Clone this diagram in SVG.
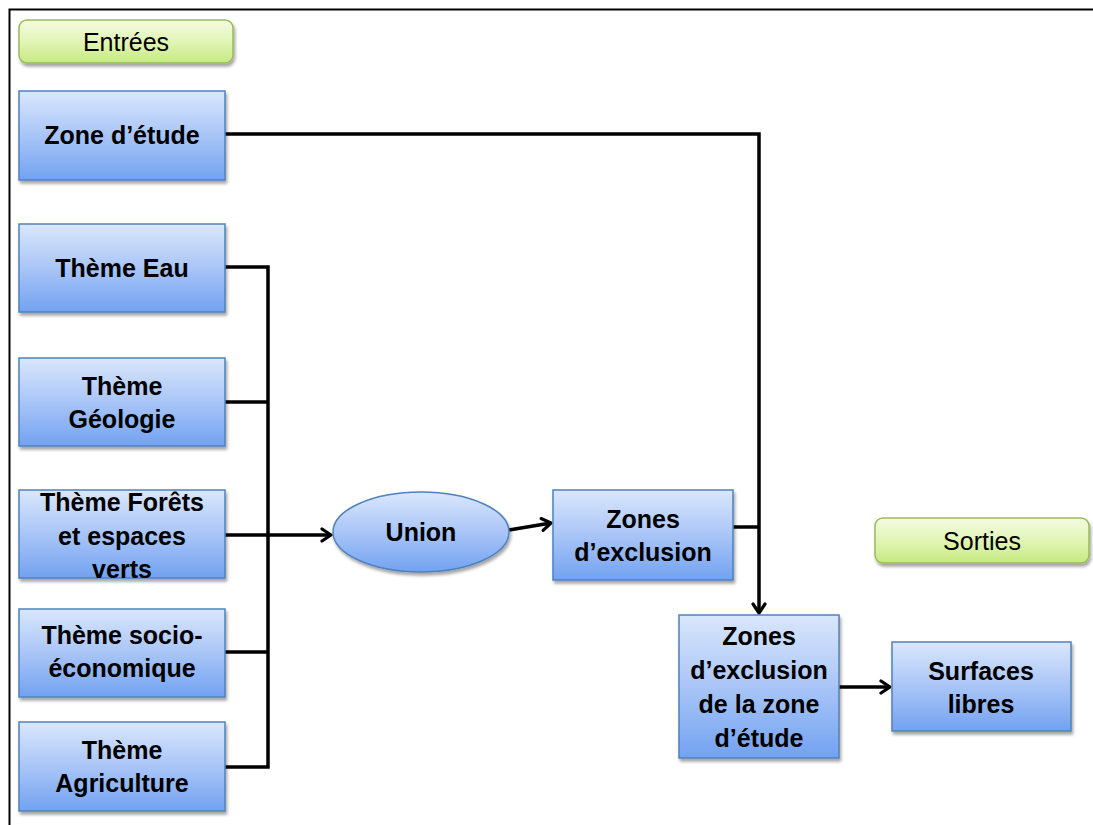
<svg xmlns="http://www.w3.org/2000/svg" width="1093" height="825" viewBox="0 0 1093 825">
  <defs>
    <linearGradient id="blueFill" x1="0" y1="0" x2="0" y2="1">
      <stop offset="0" stop-color="#dae7fc"/>
      <stop offset="0.5" stop-color="#a9c5f7"/>
      <stop offset="1" stop-color="#72a2f1"/>
    </linearGradient>
    <linearGradient id="greenFill" x1="0" y1="0" x2="0" y2="1">
      <stop offset="0" stop-color="#f4fbe2"/>
      <stop offset="0.5" stop-color="#e1f5b5"/>
      <stop offset="1" stop-color="#c6ea82"/>
    </linearGradient>
    <filter id="shadow" x="-10%" y="-10%" width="130%" height="130%">
      <feDropShadow dx="1.5" dy="3" stdDeviation="1.8" flood-color="#000" flood-opacity="0.35"/>
    </filter>
    <marker id="arrow" viewBox="0 0 16 16" refX="13" refY="8" markerWidth="16" markerHeight="16" markerUnits="userSpaceOnUse" orient="auto">
      <polyline points="4,2 13,8 4,14" fill="none" stroke="#000" stroke-width="3.2" stroke-linecap="round" stroke-linejoin="round"/>
    </marker>
  </defs>
  <style>
    .box { fill: url(#blueFill); stroke: #4f81bd; stroke-width: 1.5; filter: url(#shadow); }
    .tag { fill: url(#greenFill); stroke: #9bbb59; stroke-width: 1.5; filter: url(#shadow); }
    .lbl { font-family: "Liberation Sans", Arial, sans-serif; font-size: 25px; font-weight: bold; fill: #000; text-anchor: middle; }
    .tagl { font-family: "Liberation Sans", Arial, sans-serif; font-size: 25px; fill: #000; text-anchor: middle; }
    .wire { fill: none; stroke: #000; stroke-width: 3.5; stroke-linejoin: miter; }
  </style>

  <rect width="1093" height="825" fill="#fff"/>
  <!-- frame -->
  <path d="M9.5 825 V9.5 H1093" fill="none" stroke="#000" stroke-width="2"/>

  <!-- connectors -->
  <g id="connectors">
    <path class="wire" d="M225 134 H759 V613" marker-end="url(#arrow)"/>
    <path class="wire" d="M225 267 H268 V767 H225"/>
    <path class="wire" d="M225 402 H268"/>
    <path class="wire" d="M225 652 H268"/>
    <path class="wire" d="M225 535 H331" marker-end="url(#arrow)"/>
    <path class="wire" d="M509 530 L551 523" marker-end="url(#arrow)"/>
    <path class="wire" d="M733 527 H759"/>
    <path class="wire" d="M839 687 H890" marker-end="url(#arrow)"/>
  </g>

  <g id="entrees">
    <rect class="tag" x="19" y="20" width="214" height="43" rx="8"/>
    <text class="tagl" x="126" y="51">Entrées</text>
  </g>
  <g id="sorties">
    <rect class="tag" x="875" y="518" width="214" height="45" rx="8"/>
    <text class="tagl" x="982" y="550">Sorties</text>
  </g>

  <g id="zone-etude">
    <rect class="box" x="19" y="91" width="206" height="89"/>
    <text class="lbl" x="122" y="144">Zone d’étude</text>
  </g>
  <g id="theme-eau">
    <rect class="box" x="19" y="224" width="206" height="88"/>
    <text class="lbl" x="122" y="277">Thème Eau</text>
  </g>
  <g id="theme-geologie">
    <rect class="box" x="19" y="358" width="206" height="88"/>
    <text class="lbl" x="122" y="395">Thème</text>
    <text class="lbl" x="122" y="428">Géologie</text>
  </g>
  <g id="theme-forets">
    <rect class="box" x="19" y="490" width="206" height="88"/>
    <text class="lbl" x="122" y="511">Thème Forêts</text>
    <text class="lbl" x="122" y="545">et espaces</text>
    <text class="lbl" x="122" y="578">verts</text>
  </g>
  <g id="theme-socio">
    <rect class="box" x="19" y="609" width="206" height="88"/>
    <text class="lbl" x="122" y="644">Thème socio-</text>
    <text class="lbl" x="122" y="677">économique</text>
  </g>
  <g id="theme-agriculture">
    <rect class="box" x="19" y="722" width="206" height="89"/>
    <text class="lbl" x="122" y="759">Thème</text>
    <text class="lbl" x="122" y="792">Agriculture</text>
  </g>

  <g id="union">
    <ellipse class="box" cx="421" cy="532" rx="88" ry="40"/>
    <text class="lbl" x="421" y="541">Union</text>
  </g>
  <g id="zones-exclusion">
    <rect class="box" x="553" y="490" width="180" height="90"/>
    <text class="lbl" x="643" y="528">Zones</text>
    <text class="lbl" x="643" y="561">d’exclusion</text>
  </g>
  <g id="zones-exclusion-etude">
    <rect class="box" x="679" y="615" width="160" height="143"/>
    <text class="lbl" x="759" y="645">Zones</text>
    <text class="lbl" x="759" y="679">d’exclusion</text>
    <text class="lbl" x="759" y="713">de la zone</text>
    <text class="lbl" x="759" y="747">d’étude</text>
  </g>
  <g id="surfaces-libres">
    <rect class="box" x="892" y="642" width="179" height="89"/>
    <text class="lbl" x="981" y="680">Surfaces</text>
    <text class="lbl" x="981" y="713">libres</text>
  </g>
</svg>
